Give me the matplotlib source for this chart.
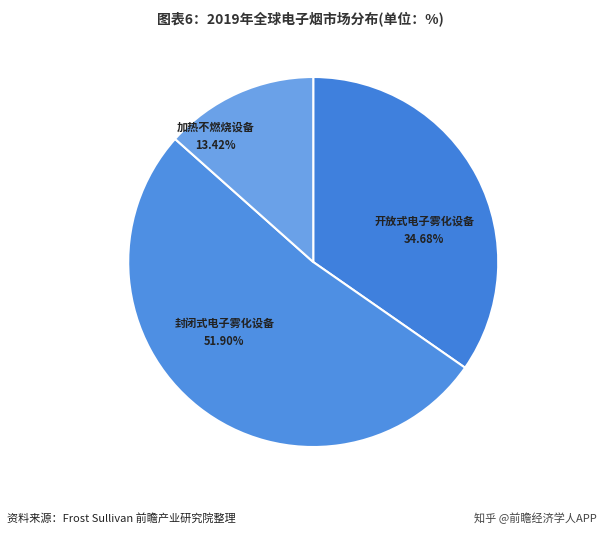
import matplotlib
matplotlib.use("Agg")
import matplotlib.pyplot as plt
import numpy as np

plt.rcParams['font.family'] = ['Noto Sans CJK SC', 'DejaVu Sans']

categories = ["开放式电子雾化设备", "封闭式电子雾化设备", "加热不燃烧设备"]
values = [34.68, 51.90, 13.42]
colors = ["#3f80dd", "#4e8fe3", "#6aa1e8"]
label_pos = [(0.60, 0.17), (-0.48, -0.38), (-0.53, 0.68)]

fig = plt.figure(figsize=(6, 5.38), dpi=100)
ax = fig.add_axes([0.522 - 0.3083, 0.513 - 0.344, 0.6167, 0.688])
ax.pie(values, colors=colors, startangle=90, counterclock=False,
       wedgeprops=dict(edgecolor="white", linewidth=1.5))
ax.set_xlim(-1, 1); ax.set_ylim(-1, 1)
for (x, y), c, v in zip(label_pos, categories, values):
    ax.text(x, y, f"{c}\n{v:.2f}%", ha="center", va="center", fontsize=8,
            fontweight="bold", color="#222222", linespacing=1.5)

fig.text(0.5, 0.966, "图表6：2019年全球电子烟市场分布(单位：%)", ha="center", va="center",
         fontsize=10, fontweight="bold", color="#333333")
fig.text(0.012, 0.037, "资料来源：Frost Sullivan 前瞻产业研究院整理", ha="left", va="center",
         fontsize=8, color="#222222")
fig.text(0.995, 0.037, "知乎 @前瞻经济学人APP", ha="right", va="center",
         fontsize=8, color="#444444")
fig.savefig("out.png", dpi=100)
